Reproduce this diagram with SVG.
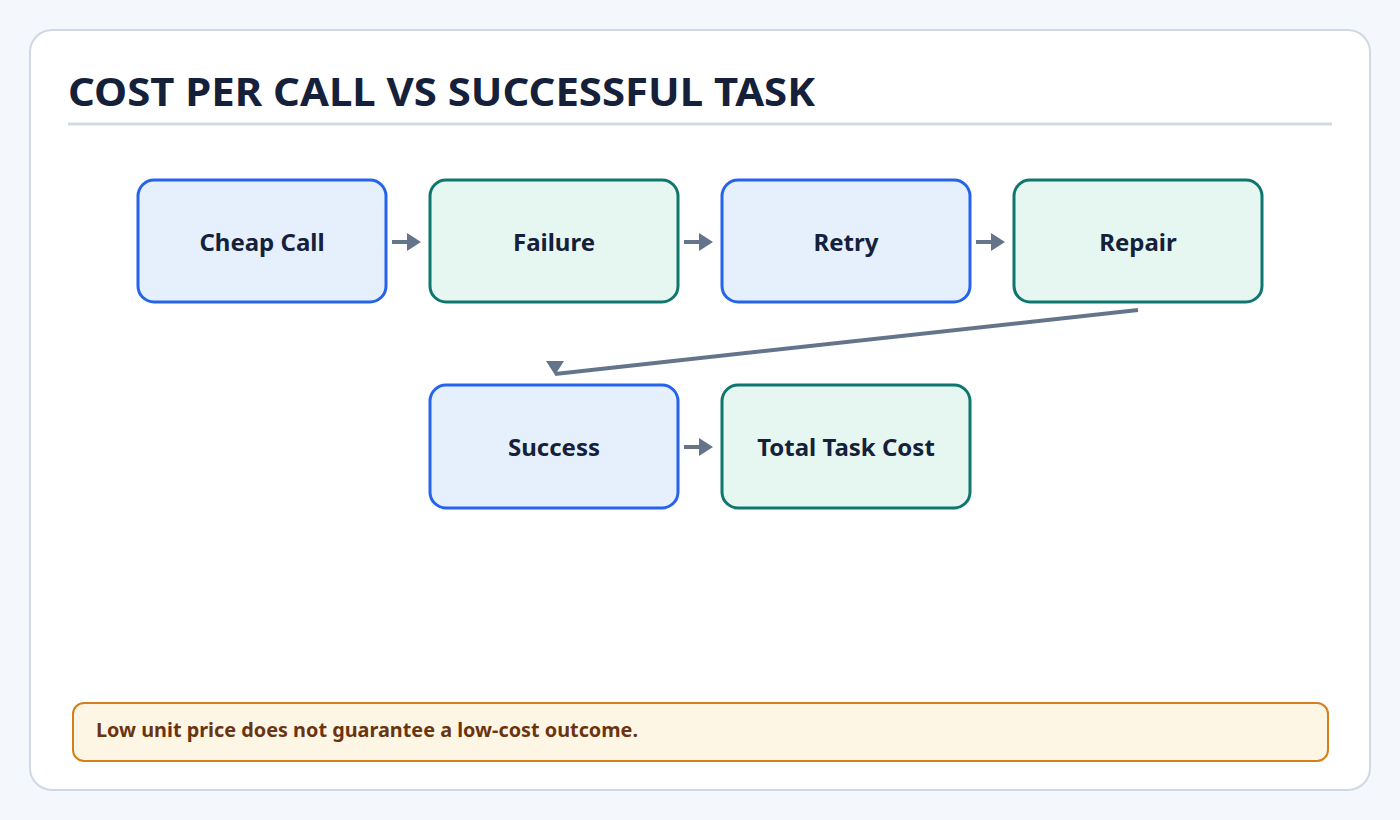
<svg xmlns="http://www.w3.org/2000/svg" width="1400" height="820" viewBox="0 0 1400 820">
<style>
text{font-family:"Noto Sans","Open Sans","DejaVu Sans",sans-serif;font-weight:700}
.lbl{font-size:24px;fill:#15213a;text-anchor:middle}
.blue{fill:#e6f0fd;stroke:#2563eb;stroke-width:3}
.green{fill:#e6f7f1;stroke:#0f766e;stroke-width:3}
.ln{stroke:#64748b;stroke-width:4;fill:none}
.ah{fill:#64748b}
</style>
<rect width="1400" height="820" fill="#f4f7fb"/>
<rect x="30" y="30" width="1340" height="760" rx="22" fill="#fff" stroke="#cfd8e4" stroke-width="2"/>
<text x="68" y="106" font-size="40" fill="#15213a" textLength="747" lengthAdjust="spacingAndGlyphs">COST PER CALL VS SUCCESSFUL TASK</text>
<line x1="68" y1="124" x2="1332" y2="124" stroke="#d3dbe6" stroke-width="3"/>
<g id="n1"><rect class="blue" x="138" y="180" width="248" height="122" rx="16"/><text class="lbl" x="262" y="251">Cheap Call</text></g>
<g id="n2"><rect class="green" x="430" y="180" width="248" height="122" rx="16"/><text class="lbl" x="554" y="251">Failure</text></g>
<g id="n3"><rect class="blue" x="722" y="180" width="248" height="122" rx="16"/><text class="lbl" x="846" y="251">Retry</text></g>
<g id="n4"><rect class="green" x="1014" y="180" width="248" height="122" rx="16"/><text class="lbl" x="1138" y="251">Repair</text></g>
<g id="n5"><rect class="blue" x="430" y="385" width="248" height="123" rx="16"/><text class="lbl" x="554" y="456">Success</text></g>
<g id="n6"><rect class="green" x="722" y="385" width="248" height="123" rx="16"/><text class="lbl" x="846" y="456">Total Task Cost</text></g>
<g id="connectors">
<line class="ln" x1="392" y1="242" x2="409" y2="242"/><polygon class="ah" points="407,233 421,242 407,251"/>
<line class="ln" x1="684" y1="242" x2="701" y2="242"/><polygon class="ah" points="699,233 713,242 699,251"/>
<line class="ln" x1="976" y1="242" x2="993" y2="242"/><polygon class="ah" points="991,233 1005,242 991,251"/>
<line class="ln" x1="684" y1="447" x2="701" y2="447"/><polygon class="ah" points="699,438 713,447 699,456"/>
<line class="ln" x1="1138" y1="310" x2="555" y2="374"/><polygon class="ah" points="546,361 564,361 555,375"/>
</g>
<rect x="73" y="703" width="1255" height="58" rx="11" fill="#fef6e4" stroke="#d4801a" stroke-width="2"/>
<text x="96" y="737" font-size="19" fill="#6b3410" textLength="542" lengthAdjust="spacingAndGlyphs">Low unit price does not guarantee a low-cost outcome.</text>
</svg>
